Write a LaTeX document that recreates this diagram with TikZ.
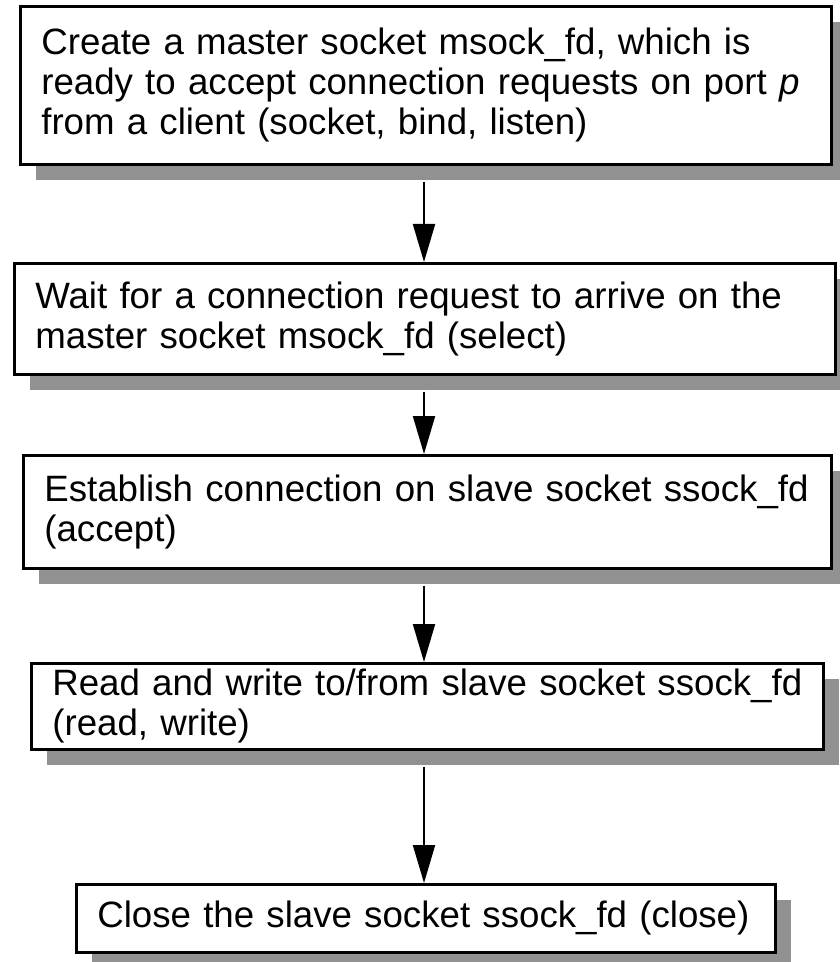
\documentclass[tikz,border=0pt]{standalone}
\usepackage{fontspec}
\setmainfont{Liberation Sans}
\usetikzlibrary{
    arrows.meta,
    shadows
}
\definecolor{ink}{RGB}{0,0,0}
\definecolor{shade}{RGB}{145,145,145}
\tikzset{
    stepbox/.style={
        rectangle,
        draw=ink,
        line width=2pt,
        fill=white,
        text=ink,
        align=left,
        anchor=north west,
        inner xsep=15.75pt,
        inner ysep=0pt,
        font=\fontsize{27.5}{30}\selectfont,
        drop shadow={shadow xshift=12pt, shadow yshift=-12pt, fill=shade, opacity=1}
    },
    flow/.style={
        -{Triangle[width=16.5pt, length=28.5pt]},
        draw=ink,
        line width=1.5pt,
        shorten <=12pt
    }
}

\begin{document}
\begin{tikzpicture}[x=0.75pt, y=-0.75pt]
\useasboundingbox (0,0) rectangle (839,962);

% Steps
\node[stepbox, text width=576.75pt, minimum height=118.5pt] (create) at (19,5)
    {Create a master socket msock\_fd, which is\\
     ready to accept connection requests on port \textit{p}\\
     from a client (socket, bind, listen)};
\node[stepbox, text width=584.25pt, minimum height=83.25pt] (wait) at (13,262)
    {Wait for a connection request to arrive on the\\
     master socket msock\_fd (select)};
\node[stepbox, text width=574.5pt, minimum height=84.75pt] (accept) at (22,454)
    {Establish connection on slave socket ssock\_fd\\
     (accept)};
\node[stepbox, text width=562.5pt, minimum height=64.5pt] (rw) at (30,662)
    {Read and write to/from slave socket ssock\_fd\\
     (read, write)};
\node[stepbox, text width=492.75pt, minimum height=51pt] (close) at (75,883)
    {Close the slave socket ssock\_fd (close)};

% Arrows
\coordinate (axis) at (424,0);
\draw[flow] (create.south -| axis) -- (wait.north -| axis);
\draw[flow] (wait.south -| axis) -- (accept.north -| axis);
\draw[flow] (accept.south -| axis) -- (rw.north -| axis);
\draw[flow] (rw.south -| axis) -- (close.north -| axis);
\end{tikzpicture}
\end{document}
